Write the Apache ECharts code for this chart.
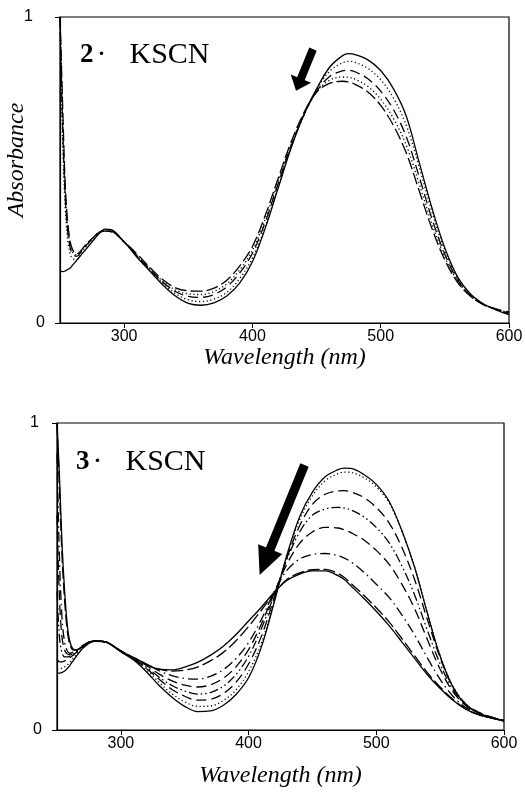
<!DOCTYPE html>
<html>
<head>
<meta charset="utf-8">
<script src="https://cdn.jsdelivr.net/npm/echarts@6/dist/echarts.min.js"></script>
<style>
html,body{margin:0;padding:0;background:#fff;}
#c{width:525px;height:792px;}
</style>
</head>
<body>
<div id="c"></div>
<script>
// ---- data ----
const wavelength = [250,252,254,256,258,260,263,266,270,275,280,285,290,300,310,320,330,340,350,360,370,380,390,400,410,420,430,440,450,460,470,475,480,490,500,510,520,530,540,550,560,570,580,590,600];
const xTicks = [300,400,500,600];
const yTicks = [0,1];

// panel "2 · KSCN"
const p2_s1 = [0.17,0.168,0.17,0.175,0.18,0.19,0.205,0.22,0.24,0.265,0.29,0.307,0.305,0.265,0.215,0.17,0.125,0.088,0.064,0.058,0.066,0.088,0.13,0.2,0.31,0.44,0.57,0.68,0.765,0.835,0.873,0.88,0.877,0.86,0.825,0.765,0.675,0.525,0.375,0.245,0.15,0.095,0.063,0.043,0.027];
const p2_s2 = [1.0,0.6,0.38,0.27,0.225,0.21,0.208,0.222,0.248,0.272,0.295,0.304,0.302,0.265,0.218,0.173,0.13,0.096,0.076,0.07,0.078,0.1,0.145,0.212,0.315,0.445,0.573,0.677,0.762,0.822,0.85,0.855,0.852,0.832,0.795,0.735,0.645,0.51,0.362,0.237,0.145,0.092,0.062,0.043,0.03];
const p2_s3 = [1.0,0.65,0.42,0.3,0.245,0.225,0.218,0.23,0.252,0.274,0.295,0.302,0.3,0.265,0.22,0.176,0.134,0.103,0.087,0.084,0.093,0.118,0.163,0.228,0.33,0.455,0.578,0.679,0.757,0.805,0.824,0.826,0.821,0.798,0.758,0.697,0.608,0.478,0.34,0.225,0.14,0.09,0.061,0.044,0.032];
const p2_s4 = [1.0,0.68,0.44,0.31,0.255,0.23,0.222,0.232,0.254,0.275,0.295,0.301,0.299,0.265,0.222,0.178,0.137,0.108,0.095,0.093,0.103,0.128,0.173,0.238,0.34,0.462,0.583,0.682,0.756,0.793,0.804,0.803,0.797,0.773,0.731,0.668,0.58,0.455,0.323,0.215,0.136,0.088,0.06,0.045,0.034];
const p2_s5 = [1.0,0.72,0.46,0.33,0.265,0.238,0.226,0.235,0.256,0.276,0.294,0.3,0.298,0.266,0.226,0.182,0.142,0.115,0.105,0.104,0.114,0.14,0.186,0.25,0.352,0.472,0.59,0.686,0.754,0.783,0.79,0.788,0.78,0.755,0.711,0.645,0.555,0.432,0.308,0.206,0.132,0.087,0.06,0.046,0.036];

// panel "3 · KSCN"
const p3_s1 = [0.185,0.185,0.188,0.192,0.2,0.21,0.228,0.245,0.265,0.282,0.29,0.289,0.284,0.255,0.228,0.19,0.145,0.107,0.077,0.06,0.062,0.08,0.115,0.17,0.27,0.415,0.57,0.695,0.775,0.825,0.848,0.853,0.852,0.833,0.8,0.745,0.65,0.53,0.38,0.24,0.14,0.082,0.055,0.04,0.028];
const p3_s2 = [0.2,0.2,0.202,0.206,0.212,0.22,0.235,0.25,0.268,0.284,0.29,0.289,0.284,0.255,0.23,0.197,0.155,0.118,0.092,0.077,0.078,0.095,0.13,0.19,0.282,0.418,0.565,0.685,0.763,0.812,0.835,0.84,0.839,0.823,0.792,0.74,0.648,0.53,0.382,0.243,0.143,0.085,0.057,0.041,0.029];
const p3_s3 = [0.23,0.222,0.222,0.225,0.23,0.235,0.245,0.256,0.27,0.285,0.29,0.289,0.284,0.256,0.231,0.2,0.165,0.132,0.11,0.097,0.1,0.118,0.155,0.215,0.305,0.43,0.56,0.665,0.735,0.768,0.779,0.78,0.776,0.758,0.725,0.675,0.595,0.49,0.36,0.235,0.14,0.085,0.058,0.042,0.03];
const p3_s4 = [0.45,0.3,0.25,0.238,0.238,0.24,0.248,0.258,0.272,0.285,0.29,0.289,0.284,0.256,0.232,0.204,0.172,0.145,0.127,0.117,0.122,0.142,0.18,0.24,0.33,0.44,0.555,0.645,0.7,0.72,0.725,0.723,0.717,0.695,0.66,0.61,0.535,0.44,0.325,0.215,0.132,0.082,0.057,0.042,0.031];
const p3_s5 = [0.7,0.42,0.3,0.26,0.248,0.245,0.25,0.26,0.273,0.286,0.29,0.289,0.284,0.257,0.234,0.21,0.182,0.16,0.146,0.14,0.147,0.168,0.205,0.262,0.345,0.445,0.54,0.608,0.645,0.66,0.658,0.652,0.643,0.62,0.585,0.54,0.475,0.395,0.295,0.198,0.125,0.08,0.056,0.042,0.031];
const p3_s6 = [0.9,0.55,0.36,0.285,0.258,0.25,0.254,0.262,0.275,0.287,0.29,0.289,0.284,0.258,0.236,0.215,0.193,0.177,0.168,0.166,0.175,0.196,0.232,0.285,0.36,0.45,0.52,0.557,0.572,0.575,0.568,0.56,0.548,0.515,0.475,0.432,0.375,0.31,0.235,0.165,0.11,0.073,0.052,0.04,0.031];
const p3_s7 = [1.0,0.78,0.56,0.42,0.325,0.28,0.26,0.262,0.273,0.285,0.29,0.289,0.284,0.258,0.236,0.215,0.198,0.192,0.195,0.205,0.225,0.252,0.29,0.337,0.39,0.445,0.49,0.512,0.522,0.523,0.51,0.497,0.478,0.44,0.398,0.352,0.298,0.242,0.187,0.14,0.1,0.069,0.05,0.039,0.031];
const p3_s8 = [1.0,0.82,0.6,0.45,0.345,0.29,0.263,0.262,0.272,0.284,0.289,0.288,0.284,0.257,0.235,0.213,0.198,0.196,0.205,0.22,0.243,0.272,0.31,0.355,0.4,0.448,0.487,0.508,0.518,0.518,0.503,0.49,0.47,0.43,0.387,0.34,0.287,0.233,0.18,0.135,0.097,0.068,0.05,0.039,0.031];

// arrows (data coordinates: [wavelength, absorbance]) tail -> head
const arrowP2 = [[447.2, 0.895], [435.9, 0.779]];
const arrowP3 = [[443.8, 0.863], [412.8, 0.547]];

// ---- chart ----
const SERIF = '"Liberation Serif", "DejaVu Serif", serif';
const SANS = '"Liberation Sans", Arial, sans-serif';

const dashStyles = {
  solid: 'solid',
  dotted: [1.2, 2.6],
  longdash: [10, 5],
  dash: [12, 4],
  dashdot: [10, 4, 1.5, 4],
  dashdotdot: [9, 3, 1.5, 3, 1.5, 3]
};

function pairs(ys) { return wavelength.map((w, i) => [w, ys[i]]); }

function lineSeries(ys, gi, dash) {
  return {
    type: 'line', xAxisIndex: gi, yAxisIndex: gi,
    data: pairs(ys), showSymbol: false, symbol: 'none',
    smooth: 0.35, silent: true,
    lineStyle: { color: '#000', width: 1.3, type: dash },
    animation: false, clip: true
  };
}

function arrowMark(a, headW, headH, shaftW) {
  return {
    silent: true, animation: false,
    symbol: ['none', 'path://M5,0L10,10L0,10Z'],
    label: { show: false },
    lineStyle: { color: '#000', width: shaftW, type: 'solid', opacity: 1 },
    emphasis: { disabled: true },
    data: [[
      { coord: a[0], symbol: 'none' },
      { coord: a[1], symbol: 'path://M5,0L10,10L0,10Z', symbolSize: [headW, headH] }
    ]]
  };
}

function xAxisDef(gi, gap) {
  return {
    type: 'value', gridIndex: gi, min: 250, max: 600,
    axisLine: { show: true, lineStyle: { color: '#000', width: 1.2 } },
    axisTick: { show: true, customValues: xTicks, length: 5, lineStyle: { color: '#000' } },
    axisLabel: { customValues: xTicks, color: '#000', fontFamily: SANS, fontSize: 16, margin: 6 },
    splitLine: { show: false },
    name: 'Wavelength (nm)', nameLocation: 'middle', nameGap: gap,
    nameTextStyle: { color: '#000', fontFamily: SERIF, fontStyle: 'italic', fontSize: 24 }
  };
}

function yAxisDef(gi, onePad) {
  return {
    type: 'value', gridIndex: gi, min: yTicks[0], max: yTicks[1], interval: 1,
    axisLine: { show: true, lineStyle: { color: '#000', width: 1.2 } },
    axisTick: { show: true, length: 5, lineStyle: { color: '#000' } },
    axisLabel: {
      color: '#000', fontFamily: SANS, fontSize: 16, margin: 15,
      formatter: v => (v === 1 ? '{o|1}' : '{z|' + v + '}'),
      rich: {
        o: { fontFamily: SANS, fontSize: 16, color: '#000', padding: [0, onePad, 0, 0] },
        z: { fontFamily: SANS, fontSize: 16, color: '#000' }
      }
    },
    splitLine: { show: false }
  };
}

const richLabel = {
  b: { fontFamily: SERIF, fontWeight: 'bold', fontSize: 27, color: '#000' },
  d: { fontFamily: SERIF, fontWeight: 'normal', fontSize: 30, color: '#000', padding: [0, 0, 0, 3] },
  k: { fontFamily: SERIF, fontWeight: 'normal', fontSize: 30, color: '#000', padding: [0, 0, 0, 23] }
};

const s2 = [
  lineSeries(p2_s1, 0, dashStyles.solid),
  lineSeries(p2_s2, 0, dashStyles.dotted),
  lineSeries(p2_s3, 0, dashStyles.longdash),
  lineSeries(p2_s4, 0, dashStyles.dotted),
  lineSeries(p2_s5, 0, dashStyles.dash)
];
s2[0].markLine = arrowMark(arrowP2, 22, 13, 8);

const s3 = [
  lineSeries(p3_s1, 1, dashStyles.solid),
  lineSeries(p3_s2, 1, dashStyles.dotted),
  lineSeries(p3_s3, 1, dashStyles.longdash),
  lineSeries(p3_s4, 1, dashStyles.dashdotdot),
  lineSeries(p3_s5, 1, dashStyles.longdash),
  lineSeries(p3_s6, 1, dashStyles.dashdot),
  lineSeries(p3_s7, 1, dashStyles.dash),
  lineSeries(p3_s8, 1, dashStyles.solid)
];
s3[0].markLine = arrowMark(arrowP3, 26, 28, 9);

const option = {
  animation: false,
  backgroundColor: '#fff',
  title: [
    { text: '{b|2}{d|·}{k|KSCN}', left: 80, top: 40, padding: 0, textStyle: { fontWeight: 'normal', rich: richLabel } },
    { text: '{b|3}{d|·}{k|KSCN}', left: 76, top: 447, padding: 0, textStyle: { fontWeight: 'normal', rich: richLabel } }
  ],
  graphic: [
    { type: 'text', x: 17, y: 160, rotation: Math.PI / 2, silent: true,
      style: { text: 'Absorbance', fill: '#000', align: 'center', verticalAlign: 'middle',
               font: 'italic 24px "Liberation Serif", serif' } }
  ],
  grid: [
    { left: 60, top: 17, width: 449, height: 306, show: true, borderColor: '#000', borderWidth: 1.2, backgroundColor: 'transparent', outerBoundsMode: 'none', containLabel: false },
    { left: 57, top: 423, width: 447, height: 307, show: true, borderColor: '#000', borderWidth: 1.2, backgroundColor: 'transparent', outerBoundsMode: 'none', containLabel: false }
  ],
  xAxis: [xAxisDef(0, 9), xAxisDef(1, 34)],
  yAxis: [yAxisDef(0, 12), yAxisDef(1, 3)],
  series: s2.concat(s3)
};

const chart = echarts.init(document.getElementById('c'), null, { renderer: 'canvas' });
chart.setOption(option);
</script>
</body>
</html>
